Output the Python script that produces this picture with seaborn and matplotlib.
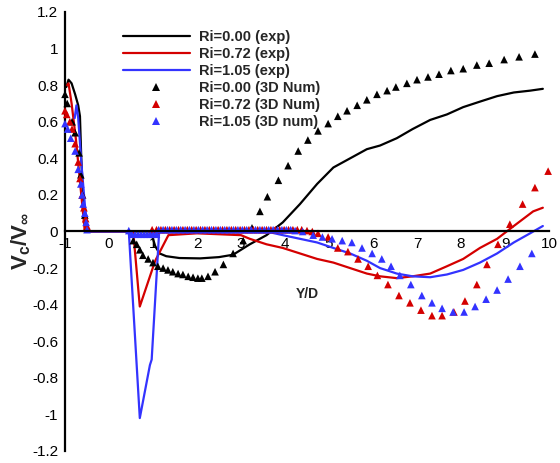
import matplotlib
matplotlib.use("Agg")
import matplotlib.pyplot as plt
import seaborn as sns
import pandas as pd
from matplotlib.lines import Line2D

# ---------------- data ----------------
exp0_x = [-0.97, -0.92, -0.85, -0.77, -0.70, -0.66, -0.63, -0.58, -0.52, 0.95, 1.05, 1.15, 1.30, 1.60, 2.07, 2.50,
          2.82, 3.00, 3.20, 3.58, 3.95, 4.34, 4.73, 5.10, 5.48, 5.86, 6.16, 6.54, 6.90, 7.30, 7.68, 8.05, 8.43,
          8.82, 9.20, 9.57, 9.86]
exp0_y = [0.79, 0.83, 0.81, 0.75, 0.69, 0.63, 0.40, 0.15, 0.00, 0.00, -0.08, -0.12, -0.135, -0.145, -0.147, -0.14,
          -0.127, -0.10, -0.07, -0.02, 0.05, 0.15, 0.26, 0.35, 0.40, 0.45, 0.47, 0.51, 0.56, 0.61, 0.64, 0.68, 0.71,
          0.74, 0.76, 0.77, 0.78]

exp72_x = [-0.95, -0.92, -0.85, -0.75, -0.65, -0.55, 0.55, 0.70, 1.05, 1.35, 2.00, 3.00, 3.20, 3.58, 3.95, 4.34,
           4.73, 5.10, 5.48, 5.86, 6.16, 6.54, 6.90, 7.30, 7.68, 8.05, 8.43, 8.82, 9.20, 9.64, 9.86]
exp72_y = [0.80, 0.81, 0.70, 0.50, 0.25, 0.00, 0.00, -0.41, -0.16, -0.02, -0.01, -0.02, -0.04, -0.07, -0.09, -0.12,
           -0.15, -0.17, -0.20, -0.23, -0.245, -0.255, -0.245, -0.23, -0.19, -0.15, -0.09, -0.04, 0.03, 0.11, 0.13]

exp105_x = [-0.78, -0.74, -0.70, -0.62, -0.55, -0.48, 0.45, 0.70, 0.93, 0.97, 1.14, 3.40, 3.58, 3.95, 4.34, 4.73,
            5.10, 5.48, 5.86, 6.16, 6.54, 6.90, 7.30, 7.68, 8.05, 8.43, 8.82, 9.20, 9.57, 9.86]
exp105_y = [0.62, 0.69, 0.62, 0.35, 0.15, 0.00, 0.00, -1.02, -0.73, -0.70, 0.00, 0.00, 0.00, -0.02, -0.04, -0.06,
            -0.09, -0.12, -0.16, -0.20, -0.23, -0.245, -0.25, -0.235, -0.21, -0.17, -0.12, -0.06, -0.01, 0.03]

num0_x = [-1.00, -0.95, -0.84, -0.77, -0.68, -0.64, -0.60, -0.55, -0.50, 0.55, 0.63, 0.70, 0.77, 0.89, 1.00, 1.11,
          1.23, 1.34, 1.45, 1.57, 1.68, 1.80, 1.91, 2.02, 2.11, 2.25, 2.41, 2.60, 2.82, 3.05, 3.25, 3.43, 3.60,
          3.85, 4.07, 4.30, 4.52, 4.75, 4.98, 5.20, 5.41, 5.64, 5.86, 6.09, 6.32, 6.52, 6.77, 7.00, 7.25, 7.50,
          7.77, 8.05, 8.36, 8.64, 8.98, 9.32, 9.68]
num0_y = [0.75, 0.70, 0.60, 0.54, 0.43, 0.31, 0.20, 0.09, 0.02, -0.05, -0.07, -0.10, -0.13, -0.15, -0.17, -0.19,
          -0.20, -0.21, -0.22, -0.23, -0.235, -0.245, -0.25, -0.255, -0.255, -0.245, -0.22, -0.18, -0.12, -0.05,
          0.02, 0.11, 0.19, 0.28, 0.36, 0.44, 0.50, 0.55, 0.59, 0.63, 0.66, 0.69, 0.72, 0.75, 0.77, 0.79, 0.81,
          0.83, 0.845, 0.86, 0.88, 0.89, 0.91, 0.92, 0.94, 0.955, 0.97]

num72_x = [-1.00, -0.96, -0.89, -0.84, -0.77, -0.70, -0.66, -0.61, -0.57, -0.53, -0.50,
           0.98, 1.08, 1.18, 1.28, 1.38, 1.48, 1.58, 1.68, 1.78, 1.88, 1.98, 2.08, 2.18, 2.28, 2.38, 2.48, 2.58,
           2.68, 2.78, 2.88, 2.98, 3.08, 3.18, 3.28, 3.38, 3.48, 3.58, 3.68, 3.78, 3.88, 3.98, 4.08, 4.18, 4.28,
           4.38, 4.50, 4.62, 4.75, 4.98, 5.20, 5.43, 5.66, 5.89, 6.10, 6.34, 6.59, 6.84, 7.09, 7.34, 7.57, 7.84,
           8.09, 8.36, 8.59, 8.84, 9.11, 9.40, 9.68, 9.98]
num72_y = [0.66, 0.64, 0.60, 0.56, 0.48, 0.38, 0.29, 0.20, 0.13, 0.07, 0.03,
           0.01, 0.01, 0.01, 0.01, 0.01, 0.01, 0.01, 0.01, 0.01, 0.01, 0.01, 0.01, 0.01, 0.01, 0.01, 0.01, 0.01,
           0.01, 0.01, 0.01, 0.01, 0.01, 0.01, 0.01, 0.01, 0.01, 0.01, 0.01, 0.01, 0.01, 0.01, 0.01, 0.01, 0.01,
           0.01, 0.005, 0.0, -0.01, -0.03, -0.09, -0.11, -0.15, -0.19, -0.24, -0.29, -0.35, -0.39, -0.43, -0.46,
           -0.46, -0.44, -0.38, -0.29, -0.18, -0.07, 0.04, 0.15, 0.24, 0.33]

num105_x = [-1.00, -0.94, -0.87, -0.77, -0.70, -0.64, -0.61, -0.59, -0.55, -0.52, -0.50,
            0.45, 0.52, 0.59, 0.66, 0.73, 0.80, 0.87, 0.94, 1.01, 1.08,
            1.13, 1.23, 1.33, 1.43, 1.53, 1.63, 1.73, 1.83, 1.93, 2.03, 2.13, 2.23, 2.33, 2.43, 2.53, 2.63, 2.73,
            2.83, 2.93, 3.03, 3.13, 3.23, 3.33, 3.43, 3.53, 3.63, 3.73, 3.83, 3.93, 4.03, 4.13, 4.23,
            4.40, 4.64, 4.85, 5.07, 5.30, 5.52, 5.75, 5.98, 6.20, 6.41, 6.61, 6.86, 7.11, 7.34, 7.57, 7.82, 8.07,
            8.32, 8.57, 8.82, 9.07, 9.34, 9.61]
num105_y = [0.59, 0.56, 0.51, 0.44, 0.34, 0.26, 0.20, 0.15, 0.10, 0.05, 0.01,
            0.005, -0.015, -0.015, -0.015, -0.015, -0.015, -0.015, -0.015, -0.015, -0.015,
            0.01, 0.01, 0.01, 0.01, 0.01, 0.01, 0.01, 0.01, 0.01, 0.01, 0.01, 0.01, 0.01, 0.01, 0.01, 0.01, 0.01,
            0.01, 0.01, 0.01, 0.01, 0.01, 0.01, 0.01, 0.01, 0.01, 0.01, 0.01, 0.01, 0.01, 0.01, 0.005,
            0.0, -0.02, -0.03, -0.04, -0.05, -0.06, -0.09, -0.12, -0.15, -0.19, -0.24, -0.29, -0.35, -0.39, -0.42,
            -0.44, -0.44, -0.41, -0.37, -0.32, -0.26, -0.19, -0.12]

labels_exp = ["Ri=0.00 (exp)", "Ri=0.72 (exp)", "Ri=1.05 (exp)"]
labels_num = ["Ri=0.00 (3D Num)", "Ri=0.72 (3D Num)", "Ri=1.05 (3D num)"]
colors = ["#000000", "#d40000", "#3333ff"]

xticks = [-1, 0, 1, 2, 3, 4, 5, 6, 7, 8, 9, 10]
yticks = [-1.2, -1.0, -0.8, -0.6, -0.4, -0.2, 0.0, 0.2, 0.4, 0.6, 0.8, 1.0, 1.2]
ytick_labels = ["-1.2", "-1", "-0.8", "-0.6", "-0.4", "-0.2", "0", "0.2", "0.4", "0.6", "0.8", "1", "1.2"]

# ---------------- style ----------------
sns.set_style("white")
plt.rcParams["font.family"] = ["Liberation Sans", "DejaVu Sans"]
plt.rcParams["mathtext.fontset"] = "custom"
plt.rcParams["mathtext.rm"] = "Liberation Sans"
plt.rcParams["mathtext.bf"] = "Liberation Sans:bold"

exp_df = pd.concat([
    pd.DataFrame({"x": exp0_x, "y": exp0_y, "s": labels_exp[0]}),
    pd.DataFrame({"x": exp72_x, "y": exp72_y, "s": labels_exp[1]}),
    pd.DataFrame({"x": exp105_x, "y": exp105_y, "s": labels_exp[2]}),
], ignore_index=True)
num_df = pd.concat([
    pd.DataFrame({"x": num0_x, "y": num0_y, "s": labels_num[0]}),
    pd.DataFrame({"x": num72_x, "y": num72_y, "s": labels_num[1]}),
    pd.DataFrame({"x": num105_x, "y": num105_y, "s": labels_num[2]}),
], ignore_index=True)

fig = plt.figure(figsize=(5.6, 4.63), dpi=100)
ax = fig.add_axes([65 / 560, 1 - 451 / 463, (549 - 65) / 560, (451 - 12) / 463])

sns.lineplot(data=exp_df, x="x", y="y", hue="s", palette=dict(zip(labels_exp, colors)),
             sort=False, estimator=None, lw=1.6, legend=False, ax=ax, zorder=3)
sns.scatterplot(data=num_df, x="x", y="y", hue="s", palette=dict(zip(labels_num, colors)),
                marker="^", s=30, edgecolor="none", legend=False, ax=ax, zorder=4, clip_on=False)

ax.set_xlim(-1, 10)
ax.set_ylim(-1.2, 1.2)
ax.set_xticks(xticks)
ax.set_xticklabels([str(t) for t in xticks])
ax.set_yticks(yticks)
ax.set_yticklabels(ytick_labels)
ax.set_xlabel("")
ax.set_ylabel("")

for side in ["top", "right"]:
    ax.spines[side].set_visible(False)
ax.spines["bottom"].set_position(("data", 0))
ax.spines["bottom"].set_zorder(5)
for side in ["left", "bottom"]:
    ax.spines[side].set_linewidth(1.6)
    ax.spines[side].set_color("black")

ax.tick_params(axis="x", direction="in", length=6, width=1.6, labelsize=11, pad=4, colors="black")
ax.tick_params(axis="y", direction="in", length=9, width=1.6, labelsize=11, pad=5, colors="black")

ax.text(4.5, -0.34, "Y/D", ha="center", va="center", fontsize=10, fontweight="bold")
fig.text(21 / 560, 1 - 241 / 463, r"$\mathbf{V_c/V_\infty}$", rotation=90, ha="center", va="center",
         fontsize=16)

handles = [Line2D([], [], color=c, lw=1.6) for c in colors] + \
          [Line2D([], [], color=c, marker="^", ls="none", markersize=6, markeredgewidth=0) for c in colors]
leg = ax.legend(handles, labels_exp + labels_num, loc="upper left",
                bbox_to_anchor=(123 / 560, 1 - 30.5 / 463), bbox_transform=fig.transFigure,
                frameon=False, handlelength=4.57, handletextpad=0.67, labelspacing=0.2,
                borderpad=0, borderaxespad=0, prop={"weight": "bold", "size": 10.5})

fig.savefig("out.png", dpi=100)
